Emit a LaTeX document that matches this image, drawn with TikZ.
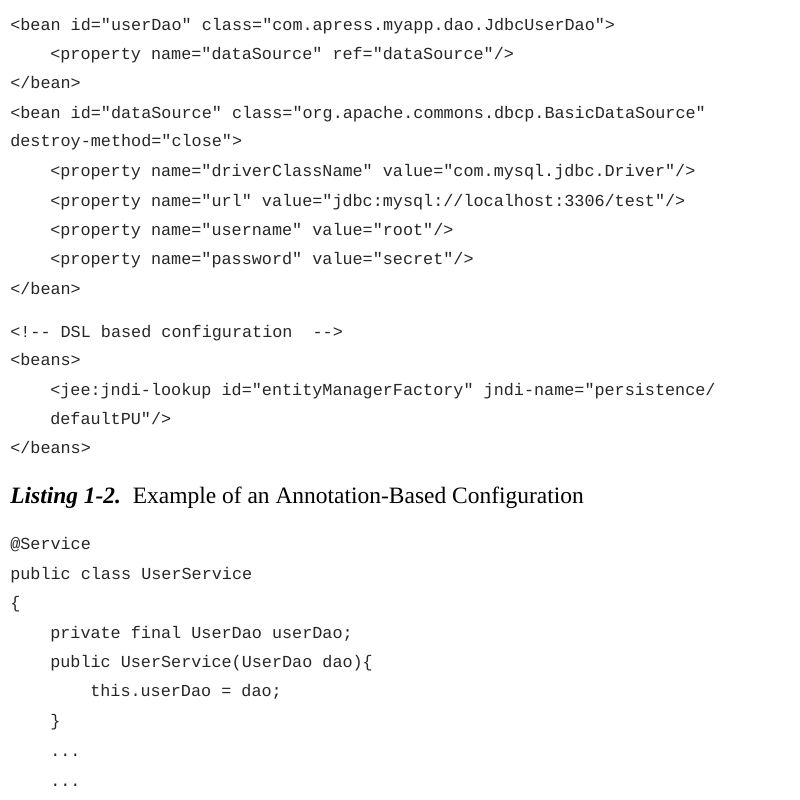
\documentclass[tikz,border=0pt]{standalone}
\usepackage{fontspec}
\setmainfont{Liberation Serif}
\setmonofont{Liberation Mono}
\usetikzlibrary{positioning}
\begin{document}
\begin{tikzpicture}[x=0.75pt,y=-0.75pt,
    code/.style={anchor=base west,inner sep=0pt,font=\fontsize{12.6}{14}\ttfamily,text=black!85},
    caption/.style={anchor=base west,inner sep=0pt,font=\fontsize{17.6}{20}\selectfont}]
  \useasboundingbox (0,0) rectangle (800,800);
  % XML configuration
  \node[code] (l1) at (10,30) {<bean id="userDao" class="com.apress.myapp.dao.JdbcUserDao">};
  \node[code] (l2) at (50,59) {<property name="dataSource" ref="dataSource"/>};
  \node[code] (l3) at (10,88) {</bean>};
  \node[code] (l4) at (10,118) {<bean id="dataSource" class="org.apache.commons.dbcp.BasicDataSource"};
  \node[code] (l5) at (10,146) {destroy-method="close">};
  \node[code] (l6) at (50,176) {<property name="driverClassName" value="com.mysql.jdbc.Driver"/>};
  \node[code] (l7) at (50,206) {<property name="url" value="jdbc:mysql://localhost:3306/test"/>};
  \node[code] (l8) at (50,235) {<property name="username" value="root"/>};
  \node[code] (l9) at (50,264) {<property name="password" value="secret"/>};
  \node[code] (l10) at (10,294) {</bean>};
  % DSL configuration
  \node[code] (d1) at (10,337) {<!-{}- DSL based configuration\ \ -{}->};
  \node[code] (d2) at (10,365) {<beans>};
  \node[code] (d3) at (50,395) {<jee:jndi-lookup id="entityManagerFactory" jndi-name="persistence/};
  \node[code] (d4) at (50,424) {defaultPU"/>};
  \node[code] (d5) at (10,453) {</beans>};
  % caption
  \node[caption] (cap) at (10,503) {\textbf{\textit{Listing 1-2.}}\ \ Example of an Annotation-Based Configuration};
  % annotation listing
  \node[code] (a1) at (10,549) {@Service};
  \node[code] (a2) at (10,579) {public class UserService};
  \node[code] (a3) at (10,608) {\{};
  \node[code] (a4) at (50,638) {private final UserDao userDao;};
  \node[code] (a5) at (50,667) {public UserService(UserDao dao)\{};
  \node[code] (a6) at (90,696) {this.userDao = dao;};
  \node[code] (a7) at (50,726) {\}};
  \node[code] (a8) at (50,756) {...};
  \node[code] (a9) at (50,786) {...};
  \node[code] (a10) at (10,813) {\}};
\end{tikzpicture}
\end{document}
